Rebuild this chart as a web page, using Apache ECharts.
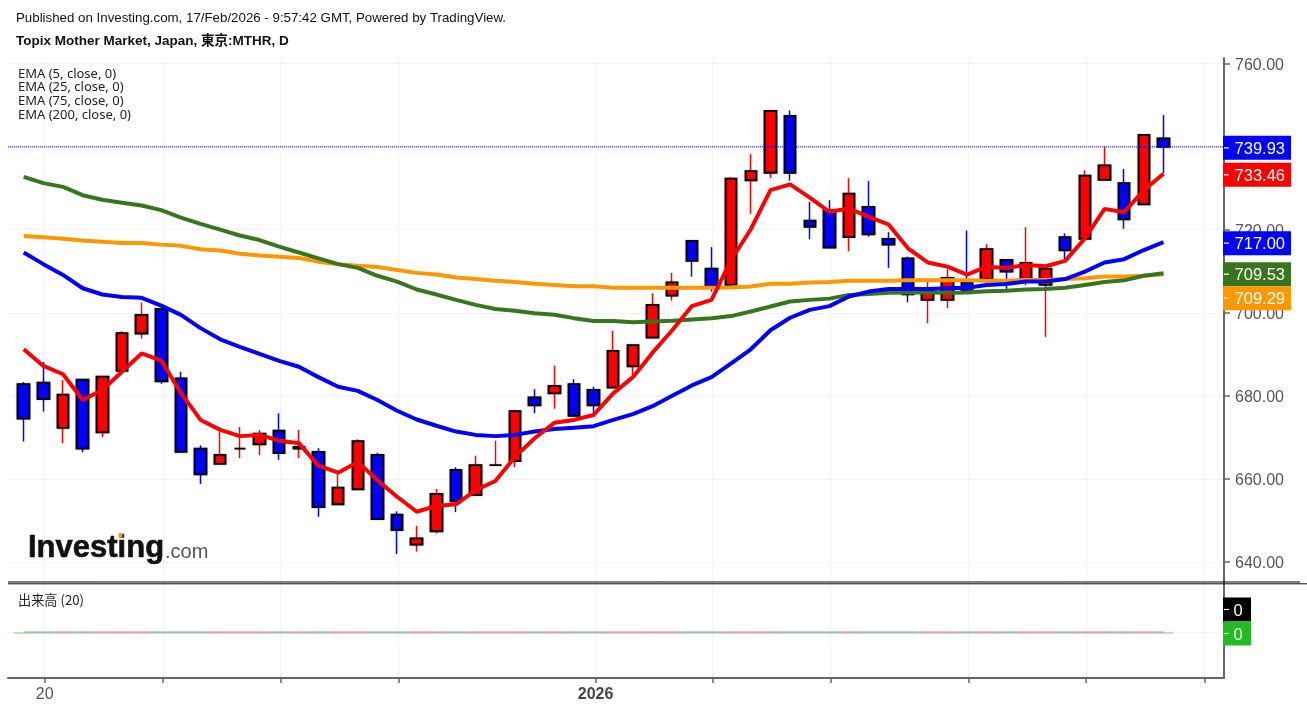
<!DOCTYPE html>
<html>
<head>
<meta charset="utf-8">
<title>Topix Mother Market</title>
<script src="https://cdn.jsdelivr.net/npm/echarts@6/dist/echarts.min.js"></script>
<style>
  html, body { margin: 0; padding: 0; background: #fff; }
  #chart { width: 1307px; height: 711px; }
</style>
</head>
<body>
<div id="chart"></div>
<script>
var opens = [682.8, 683.2, 672.3, 683.9, 671.2, 686.0, 695.0, 700.9, 684.2, 667.3,
  663.6, 667.3, 668.3, 671.6, 667.3, 666.5, 653.9, 657.5, 665.8, 651.4,
  644.2, 647.4, 662.2, 656.1, 663.3, 664.3, 679.6, 680.6, 682.8, 681.4,
  682.0, 687.1, 694.0, 704.1, 717.3, 710.6, 706.7, 731.9, 733.7, 747.4,
  722.2, 724.7, 718.2, 725.5, 717.8, 713.1, 703.1, 703.1, 707.4, 708.1,
  712.7, 708.1, 706.7, 718.2, 717.8, 732.0, 731.2, 726.1, 742.0]
var closes = [674.5, 679.2, 680.3, 667.3, 684.6, 695.1, 699.5, 683.5, 666.5, 661.1,
  665.8, 667.3, 670.9, 666.2, 667.7, 653.2, 657.9, 669.1, 650.3, 647.7,
  645.7, 656.4, 654.6, 663.3, 663.3, 676.3, 677.7, 682.4, 675.2, 677.7,
  690.8, 692.2, 701.9, 707.3, 712.5, 706.3, 732.3, 734.1, 748.6, 733.7,
  720.7, 715.7, 728.7, 718.9, 716.4, 704.4, 705.5, 708.4, 705.2, 715.3,
  709.9, 712.0, 710.6, 715.0, 733.0, 735.5, 722.5, 742.8, 739.93]
var lows = [669.0, 676.2, 668.6, 666.4, 670.0, 686.0, 693.8, 682.9, 666.5, 658.8,
  663.6, 665.0, 665.7, 664.6, 665.0, 650.9, 653.9, 657.5, 650.3, 641.9,
  642.5, 646.9, 652.0, 656.1, 663.2, 662.8, 675.8, 676.9, 675.2, 675.4,
  682.0, 684.6, 694.0, 702.9, 708.7, 705.1, 706.7, 723.8, 732.4, 731.8,
  717.7, 715.7, 714.8, 718.3, 710.8, 702.5, 697.5, 701.1, 705.2, 706.8,
  705.1, 706.6, 694.2, 712.9, 717.8, 732.0, 720.2, 726.1, 733.6]
var highs = [683.3, 688.2, 683.8, 683.9, 684.6, 695.5, 702.5, 700.9, 685.8, 668.1,
  671.4, 672.5, 671.8, 675.8, 671.8, 667.4, 661.5, 669.5, 666.3, 652.2,
  648.7, 657.6, 662.8, 665.6, 669.2, 676.6, 681.6, 687.3, 684.0, 682.2,
  695.6, 692.2, 704.7, 709.6, 717.3, 715.8, 732.7, 738.2, 748.6, 748.7,
  726.7, 727.1, 732.4, 731.7, 719.4, 713.5, 707.9, 710.5, 719.8, 716.5,
  712.7, 720.6, 710.6, 719.1, 734.3, 740.0, 734.6, 743.0, 747.6]

var ema5 = [691.2, 687.2, 685.2, 679.0, 681.4, 685.8, 690.2, 688.5, 680.7, 674.2,
  671.8, 670.3, 670.6, 669.2, 668.6, 663.2, 661.5, 664.1, 659.7, 655.7,
  652.1, 653.5, 653.9, 657.3, 659.5, 665.3, 669.8, 673.5, 674.2, 675.4,
  680.6, 684.5, 690.4, 695.8, 701.6, 703.1, 712.7, 720.1, 729.5, 730.9,
  727.7, 724.3, 725.1, 723.1, 721.3, 715.5, 712.1, 711.1, 709.2, 711.1,
  710.8, 711.5, 711.2, 712.5, 717.9, 725.0, 724.2, 729.5, 733.46]
var ema25 = [714.5, 711.7, 709.1, 705.9, 704.4, 703.8, 703.6, 701.7, 699.5, 696.3,
  693.6, 691.8, 690.1, 688.4, 687.0, 684.5, 682.2, 681.2, 679.0, 676.4,
  674.3, 672.8, 671.4, 670.6, 670.3, 670.6, 671.4, 672.0, 672.3, 672.7,
  674.2, 675.6, 677.5, 680.0, 682.5, 684.5, 687.8, 691.2, 695.8, 698.8,
  700.7, 701.6, 703.9, 705.1, 705.7, 705.7, 705.7, 705.9, 706.0, 706.7,
  706.9, 707.5, 707.5, 708.1, 709.9, 712.1, 712.9, 715.1, 717.0]
var ema75 = [718.5, 718.2, 717.8, 717.4, 717.1, 716.8, 716.8, 716.4, 716.1, 715.3,
  715.0, 714.2, 713.8, 713.5, 713.2, 712.3, 711.7, 711.3, 711.0, 710.3,
  709.6, 709.2, 708.5, 708.1, 707.7, 707.4, 707.0, 706.7, 706.4, 706.4,
  706.0, 706.0, 706.0, 706.0, 706.0, 706.0, 706.1, 706.3, 707.0, 707.0,
  707.3, 707.4, 707.7, 707.7, 707.7, 707.8, 707.8, 707.8, 707.8, 707.7,
  707.7, 707.9, 707.9, 708.1, 708.3, 708.7, 708.7, 708.9, 709.29]
var ema200 = [732.7, 731.2, 730.3, 728.3, 727.2, 726.5, 725.8, 724.7, 722.9, 721.4,
  720.0, 718.6, 717.5, 715.9, 714.5, 713.1, 711.7, 710.8, 708.9, 707.5,
  705.6, 704.4, 703.1, 701.9, 700.9, 700.5, 699.9, 699.5, 698.7, 698.0,
  698.0, 697.7, 697.9, 698.1, 698.4, 698.7, 699.2, 700.3, 701.5, 702.7,
  703.1, 703.4, 704.3, 704.5, 704.8, 704.9, 704.9, 704.8, 704.9, 705.2,
  705.3, 705.6, 705.7, 706.0, 706.7, 707.4, 707.8, 708.9, 709.53]

// 出来高は全部ゼロ
var volumes = opens.map(function () { return 0 })
var volumeMa = opens.map(function () { return 0 })

var priceMin = 640
var priceMax = 760
var priceStep = 20
var xMin = -0.799
var xMax = 61.08
var xTicks = [1.07, 7.1, 13.06, 19.08, 29.1, 35.04, 41.05, 48.07, 54.05, 60.1]
var xLabels = ['20', '', '', '', '2026', '', '', '', '', '']
var emaNames = ['EMA (5, close, 0)', 'EMA (25, close, 0)', 'EMA (75, close, 0)', 'EMA (200, close, 0)']

var RED = '#ff0000'
var BLUE = '#0000ff'
var ORANGE = '#ff9800'
var GREEN = '#38761d'
var AXIS = '#666'
var GRID = '#f3f3f3'
var LABEL = '#555'
var FONT = '"Liberation Sans", Arial, sans-serif'

var chart = echarts.init(document.getElementById('chart'))

function xAxisBase(grid) {
  return {
    type: 'value', gridIndex: grid, min: xMin, max: xMax,
    axisLine: { show: false, onZero: false }, axisTick: { show: false },
    axisLabel: { show: false }, splitLine: { show: false }
  }
}

function emaSeries(name, values, color) {
  return {
    name: name, type: 'line', xAxisIndex: 1, yAxisIndex: 1, symbol: 'none', silent: true,
    data: values.map(function (v, i) { return [i, v] }),
    lineStyle: { color: color, width: 4 }
  }
}

var frameX = xAxisBase(0)
frameX.position = 'bottom'
frameX.axisLine = { show: true, onZero: false, lineStyle: { color: AXIS, width: 2 } }
frameX.axisTick = { show: true, length: 5, customValues: xTicks, lineStyle: { color: AXIS, width: 1.5 } }
frameX.splitLine = { show: true, lineStyle: { color: GRID, width: 1 } }
frameX.axisLabel = {
  show: true, customValues: xTicks, margin: 9, fontSize: 16, fontFamily: FONT, color: LABEL,
  formatter: function (v) {
    var text = xLabels[xTicks.indexOf(v)] || ''
    return text === '2026' ? '{b|' + text + '}' : text
  },
  rich: { b: { fontSize: 16, fontWeight: 'bold', fontFamily: FONT, color: '#444' } }
}

chart.setOption({
  animation: false,
  grid: [
    { left: 8, width: 1216, top: 58, height: 620 },
    { left: 8, width: 1216, top: 63.5, height: 498.5 },
    { left: 8, width: 1216, top: 586, height: 92 }
  ],
  xAxis: [frameX, xAxisBase(1), xAxisBase(2)],
  yAxis: [
    {
      type: 'value', gridIndex: 0, position: 'right', min: 0, max: 1,
      axisLine: { show: true, onZero: false, lineStyle: { color: AXIS, width: 2 } },
      axisTick: { show: false }, axisLabel: { show: false }, splitLine: { show: false }
    },
    {
      type: 'value', gridIndex: 1, position: 'right', min: priceMin, max: priceMax, interval: priceStep,
      axisLine: { show: false, onZero: false },
      axisTick: { show: true, length: 6, lineStyle: { color: AXIS, width: 1.5 } },
      axisLabel: {
        margin: 11,
        formatter: function (v) { return '{p|' + v.toFixed(2) + '}' },
        rich: { p: { fontSize: 16, fontFamily: FONT, color: LABEL, padding: [4, 0, 0, 0] } }
      },
      splitLine: { show: true, lineStyle: { color: GRID, width: 1 } }
    },
    {
      type: 'value', gridIndex: 2, position: 'right', min: -1, max: 1, interval: 1,
      axisLine: { show: false, onZero: false },
      axisTick: { show: false, customValues: [0] },
      axisLabel: { show: false },
      splitLine: { show: true, lineStyle: { color: GRID, width: 1 } }
    },
    {
      // 棒は上に伸びるので、ゼロ線より少し下に基準を置く
      type: 'value', gridIndex: 2, position: 'right', min: -44, max: 48, show: false
    }
  ],
  series: [
    emaSeries('EMA 75', ema75, ORANGE),
    emaSeries('EMA 200', ema200, GREEN),
    emaSeries('EMA 25', ema25, BLUE),
    emaSeries('EMA 5', ema5, RED),
    {
      // ヒゲ
      name: 'wick', type: 'candlestick', xAxisIndex: 1, yAxisIndex: 1, barWidth: 1, silent: true,
      data: opens.map(function (o, i) { return [i, o, closes[i], lows[i], highs[i]] }),
      itemStyle: { color: RED, color0: BLUE, borderColor: RED, borderColor0: BLUE, borderColorDoji: RED, borderWidth: 1.5 }
    },
    {
      // 実体
      name: 'body', type: 'candlestick', xAxisIndex: 1, yAxisIndex: 1, barWidth: 12, silent: true,
      data: opens.map(function (o, i) {
        return [i, o, closes[i], Math.min(o, closes[i]), Math.max(o, closes[i])]
      }),
      itemStyle: {
        color: RED, color0: BLUE, borderColor: '#000', borderColor0: '#000', borderColorDoji: '#000',
        borderWidth: 1.8, shadowColor: 'rgba(0,0,0,0.45)', shadowBlur: 1.5
      }
    },
    {
      // 現在値の点線
      name: 'last', type: 'line', xAxisIndex: 1, yAxisIndex: 1, symbol: 'none', silent: true, z: 5,
      data: [[xMin, closes[closes.length - 1]], [xMax, closes[closes.length - 1]]],
      lineStyle: { color: BLUE, type: [1, 1], width: 1 }
    },
    {
      name: '出来高', type: 'bar', xAxisIndex: 2, yAxisIndex: 3, barWidth: 19.6, barMinHeight: 2, silent: true,
      data: volumes.map(function (v, i) {
        return {
          value: [i, v],
          itemStyle: { color: closes[i] >= opens[i] ? 'rgba(255,60,60,0.3)' : 'rgba(34,187,34,0.3)' }
        }
      })
    },
    {
      name: 'volume ma', type: 'line', xAxisIndex: 2, yAxisIndex: 2, symbol: 'none', silent: true,
      data: volumeMa.map(function (v, i) { return [i, v] }),
      lineStyle: { color: '#999', width: 1.2 }
    }
  ]
})

// 右側の価格タグと見出し類
function tag(label, color, cy) {
  return [
    { type: 'rect', z: 50, shape: { x: 1223, y: cy - 12, width: 68, height: 24 }, style: { fill: color } },
    { type: 'line', z: 51, shape: { x1: 1224, y1: cy, x2: 1229, y2: cy }, style: { stroke: '#fff', lineWidth: 1.2 } },
    {
      type: 'text', z: 51, x: 1285, y: cy + 1.5,
      style: { text: label, fill: '#fff', font: '16.5px ' + FONT, textAlign: 'right', textVerticalAlign: 'middle' }
    }
  ]
}

function text(x, y, str, font, fill) {
  return { type: 'text', z: 20, x: x, y: y, style: { text: str, font: font, fill: fill || '#111', textVerticalAlign: 'middle' } }
}

var tagList = [
  { value: closes[closes.length - 1], color: BLUE },
  { value: ema5[ema5.length - 1], color: RED },
  { value: ema25[ema25.length - 1], color: BLUE },
  { value: ema200[ema200.length - 1], color: GREEN },
  { value: ema75[ema75.length - 1], color: ORANGE }
]

var graphics = []
var lastY = -100
tagList.forEach(function (t) {
  var cy = Math.max(chart.convertToPixel({ yAxisIndex: 1 }, t.value) + 1, lastY + 24)
  lastY = cy
  graphics = graphics.concat(tag(t.value.toFixed(2), t.color, cy))
})

var zeroY = chart.convertToPixel({ yAxisIndex: 2 }, 0) + 1.5
var volTags = [
  { color: '#000', cy: zeroY - 24 },
  { color: '#22bb22', cy: zeroY }
]
volTags.forEach(function (t) {
  graphics.push({ type: 'rect', z: 50, shape: { x: 1223, y: t.cy - 12, width: 28, height: 24 }, style: { fill: t.color } })
  graphics.push({ type: 'line', z: 51, shape: { x1: 1224, y1: t.cy, x2: 1229, y2: t.cy }, style: { stroke: '#fff', lineWidth: 1.2 } })
  graphics.push({
    type: 'text', z: 51, x: 1238, y: t.cy + 1.5,
    style: { text: '0', fill: '#fff', font: '16.5px ' + FONT, textAlign: 'center', textVerticalAlign: 'middle' }
  })
})

graphics.push({ type: 'line', z: 40, shape: { x1: 8, y1: 582, x2: 1300, y2: 582 }, style: { stroke: '#000', lineWidth: 1.2 } })
graphics.push({ type: 'line', z: 40, shape: { x1: 8, y1: 583.8, x2: 1307, y2: 583.8 }, style: { stroke: '#111', lineWidth: 1 } })

graphics.push(text(16, 18, 'Published on Investing.com, 17/Feb/2026 - 9:57:42 GMT, Powered by TradingView.', '13.3px ' + FONT))
graphics.push(text(16, 41, 'Topix Mother Market, Japan, 東京:MTHR, D', 'bold 13.5px ' + FONT + ', "Noto Sans CJK JP"'))
var legendY = [74, 87, 101, 115]
emaNames.forEach(function (name, i) {
  graphics.push(text(18, legendY[i], name, '13px "Noto Sans", sans-serif', '#222'))
})
graphics.push(text(18, 600, '出来高 (20)', '13.2px "Noto Sans CJK JP", sans-serif', '#222'))

// ロゴ
var logo = text(28, 548.5, 'Investing', 'bold 31px ' + FONT, '#111')
logo.style.stroke = '#111'
logo.style.lineWidth = 0.6
graphics.push(logo)
graphics.push(text(165, 552, '.com', '20px ' + FONT, '#555'))
graphics.push({ type: 'circle', z: 21, shape: { cx: 120.5, cy: 535, r: 2.2 }, style: { fill: '#f7a600' } })

chart.setOption({ graphic: graphics })
</script>
</body>
</html>
